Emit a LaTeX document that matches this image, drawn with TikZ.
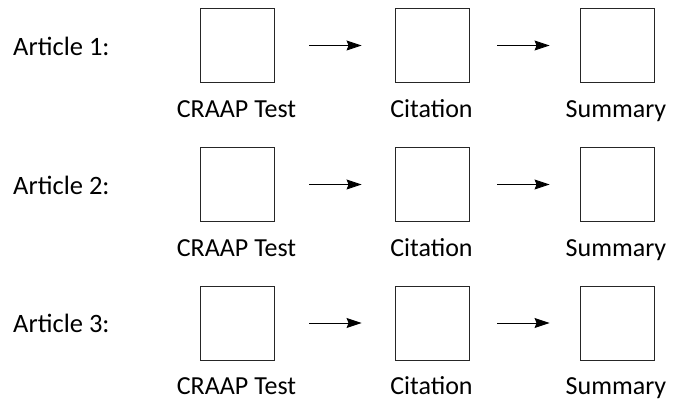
\documentclass[tikz,border=0pt]{standalone}
\usepackage{fontspec}
\setmainfont{Carlito}
\usetikzlibrary{arrows.meta}
\begin{document}
\begin{tikzpicture}[x=1pt,y=1pt,
  stagebox/.style={draw=black!85,line width=0.9pt,minimum width=74pt,minimum height=74pt,inner sep=0pt},
  caption/.style={font=\fontsize{26}{30}\selectfont,inner sep=0pt,anchor=base},
  rowlabel/.style={font=\fontsize{26.5}{30}\selectfont,inner sep=0pt,anchor=base west},
  flow/.style={line width=0.9pt,-{Stealth[length=15pt,width=10pt,inset=2pt]}}]
\useasboundingbox (0,0) rectangle (680,-400);
\foreach \r/\y in {1/45.5,2/184.5,3/323}{
  \node[rowlabel] (art\r) at (13,-\y-9.5) {Article \r:};
  \node[stagebox] (c\r) at (237,-\y) {};
  \node[stagebox] (t\r) at (432,-\y) {};
  \node[stagebox] (s\r) at (617,-\y) {};
  \node[caption] (lc\r) at (236.5,-\y-71.5) {CRAAP Test};
  \node[caption] (lt\r) at (431.5,-\y-71.5) {Citation};
  \node[caption] (ls\r) at (616,-\y-71.5) {Summary};
  \draw[flow,shorten <=35pt,shorten >=33pt] (c\r.east) -- (t\r.west);
  \draw[flow,shorten <=28pt,shorten >=30pt] (t\r.east) -- (s\r.west);
}
\end{tikzpicture}
\end{document}
